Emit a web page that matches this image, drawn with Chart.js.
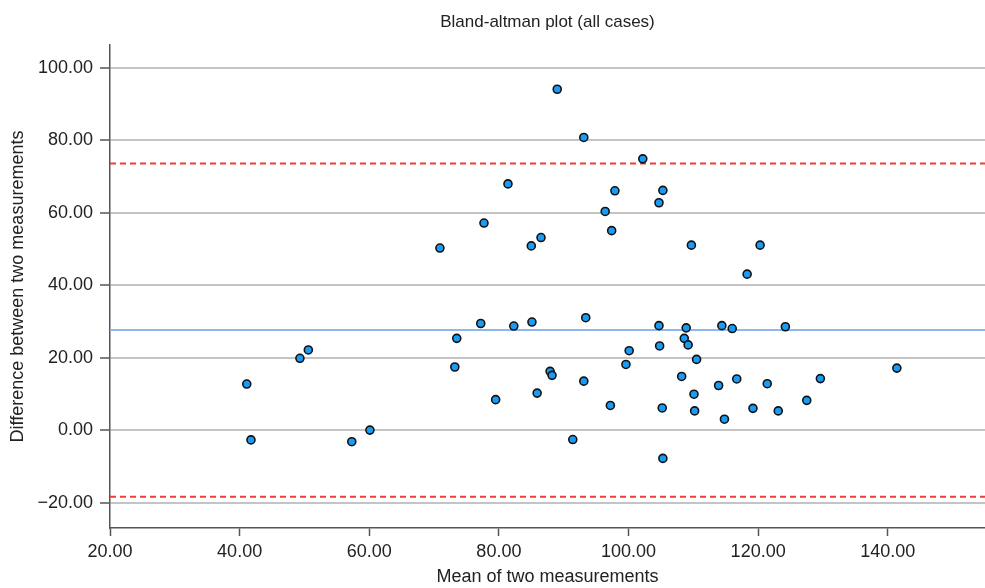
<!DOCTYPE html>
<html lang="en">

<head>
  <meta charset="UTF-8">
  <title>Bland-altman plot</title>
  <script src="https://cdn.jsdelivr.net/npm/chart.js@4.4.1/dist/chart.umd.min.js"></script>
  <style>
    body { margin: 0; background: #fff; }
    #wrap { width: 985px; height: 588px; }
  </style>
</head>

<body>
  <div id="wrap">
    <canvas id="baChart"></canvas>
  </div>

  <script>
    const meanVals = [41.1, 41.75, 49.3, 50.6, 57.3, 60.1, 73.5, 73.2, 77.2, 79.5,
      82.3, 85.1, 87.9, 88.2, 85.9, 93.4, 93.1, 91.4, 97.2, 100.1,
      99.6, 104.7, 104.8, 105.2, 105.3, 108.9, 108.6, 109.2, 110.5, 108.2,
      110.1, 110.2, 114.4, 116.0, 113.9, 116.7, 114.8, 119.2, 121.4, 123.1, 124.2,
      141.4, 129.6, 127.5,
      89.0, 93.1, 102.2, 81.4, 97.9, 105.3, 104.7, 96.4, 97.4, 86.5, 85.0, 109.7, 120.3,
      77.7, 70.9, 118.3];
    const diffVals = [12.8, -2.6, 19.9, 22.2, -3.1, 0.1, 25.4, 17.5, 29.5, 8.5,
      28.8, 29.9, 16.3, 15.2, 10.3, 31.1, 13.6, -2.5, 6.9, 22.0,
      18.2, 28.9, 23.3, 6.2, -7.7, 28.3, 25.4, 23.6, 19.6, 14.9,
      10.0, 5.4, 28.9, 28.1, 12.4, 14.2, 3.1, 6.1, 12.9, 5.4, 28.6,
      17.2, 14.3, 8.3,
      94.1, 80.8, 74.9, 68.0, 66.1, 66.2, 62.8, 60.4, 55.1, 53.2, 50.9, 51.1, 51.1,
      57.2, 50.3, 43.1];

    // mean difference and limits of agreement
    const meanDiff = 27.7;
    const upperLimit = 73.6;
    const lowerLimit = -18.3;

    const xRange = [20, 155];
    const yRange = [-26.9, 106.3];
    const xTicks = [20, 40, 60, 80, 100, 120, 140];
    const yTicks = [-20, 0, 20, 40, 60, 80, 100];

    const points = meanVals.map((m, i) => ({ x: m, y: diffVals[i] }));
    const hLine = v => [{ x: xRange[0], y: v }, { x: xRange[1], y: v }];

    const fmt = v => (v < 0 ? '\u2212' + Math.abs(v).toFixed(2) : v.toFixed(2));

    Chart.defaults.font.family = '"Liberation Sans", Arial, sans-serif';
    Chart.defaults.color = '#222';

    const ctx = document.getElementById('baChart').getContext('2d');

    new Chart(ctx, {
      type: 'scatter',
      data: {
        datasets: [
          {
            label: 'Cases',
            data: points,
            backgroundColor: '#1a9cf5',
            borderColor: '#111',
            borderWidth: 1.6,
            pointRadius: 4,
            order: 0
          },
          {
            type: 'line',
            label: 'Mean',
            data: hLine(meanDiff),
            borderColor: '#8fb6ee',
            borderWidth: 2,
            pointRadius: 0,
            order: 1
          },
          {
            type: 'line',
            label: 'Upper limit',
            data: hLine(upperLimit),
            borderColor: '#f23b3b',
            borderWidth: 2,
            borderDash: [6, 4],
            pointRadius: 0,
            order: 1
          },
          {
            type: 'line',
            label: 'Lower limit',
            data: hLine(lowerLimit),
            borderColor: '#f23b3b',
            borderWidth: 2,
            borderDash: [6, 4],
            pointRadius: 0,
            order: 1
          }
        ]
      },
      options: {
        responsive: true,
        maintainAspectRatio: false,
        animation: false,
        layout: { padding: 0, autoPadding: false },
        plugins: {
          legend: { display: false },
          tooltip: { enabled: false },
          title: {
            display: true,
            fullSize: false,
            text: 'Bland-altman plot (all cases)',
            font: { size: 17, weight: 'normal' },
            color: '#222',
            padding: { top: 12, bottom: 12.6 }
          }
        },
        scales: {
          x: {
            type: 'linear',
            min: xRange[0],
            max: xRange[1],
            afterBuildTicks: s => { s.ticks = xTicks.map(v => ({ value: v })); },
            afterFit: s => { s.height = 60; },
            ticks: {
              font: { size: 18 },
              padding: 5,
              maxRotation: 0,
              callback: v => fmt(v)
            },
            grid: {
              drawOnChartArea: false,
              tickLength: 8,
              tickColor: '#555',
              tickWidth: 1.5
            },
            border: { color: '#555', width: 1.5 },
            title: {
              display: true,
              text: 'Mean of two measurements',
              font: { size: 18 },
              padding: { top: 0, bottom: 0 }
            }
          },
          y: {
            type: 'linear',
            min: yRange[0],
            max: yRange[1],
            afterBuildTicks: s => { s.ticks = yTicks.map(v => ({ value: v })); },
            afterFit: s => { s.width = 110; },
            ticks: {
              font: { size: 18 },
              padding: 7,
              callback: v => fmt(v)
            },
            grid: {
              color: '#c4c4c4',
              lineWidth: 2,
              tickLength: 10,
              tickColor: '#555',
              tickWidth: 1.5
            },
            border: { color: '#555', width: 1.5 },
            title: {
              display: true,
              text: 'Difference between two measurements',
              font: { size: 18 },
              padding: { top: 7, bottom: 0 }
            }
          }
        }
      }
    });
  </script>

</body>
</html>
